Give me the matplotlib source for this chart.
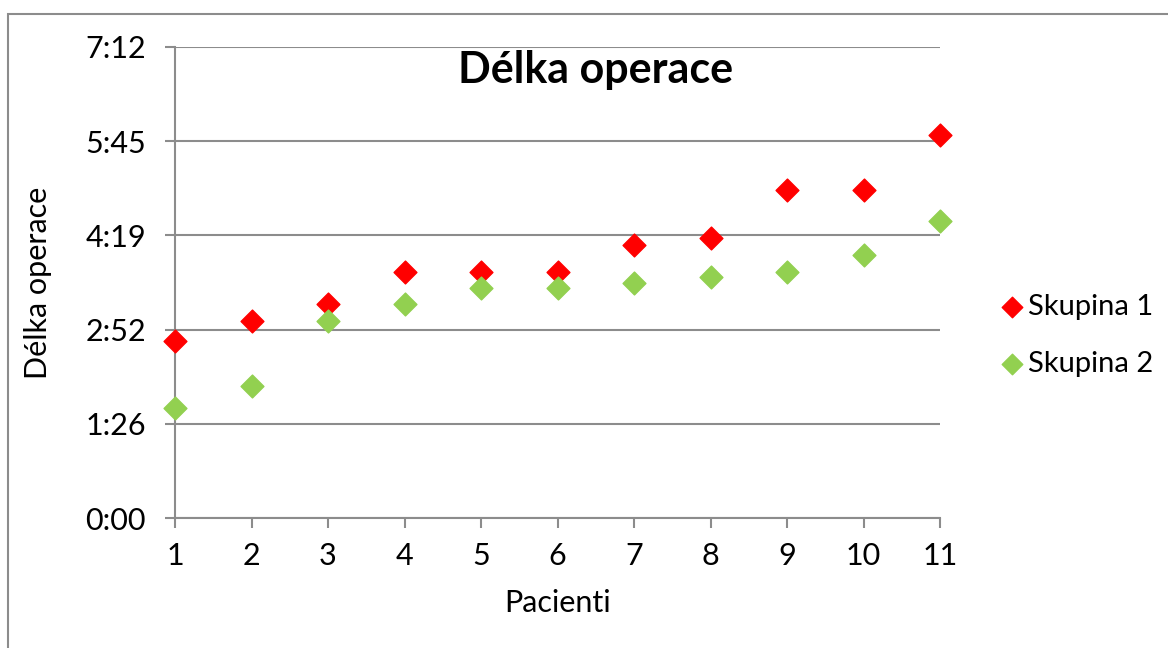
import matplotlib.pyplot as plt
from matplotlib.patches import Rectangle

plt.rcParams['font.family'] = ['Lato', 'DejaVu Sans']

# patients and operation length in minutes
pacienti = [1, 2, 3, 4, 5, 6, 7, 8, 9, 10, 11]
skupina1 = [162, 181, 196, 226, 226, 226, 250, 257, 301, 301, 351]
skupina2 = [101, 121, 181, 196, 211, 211, 216, 221, 226, 241, 272]
yticks = [0, 86.4, 172.8, 259.2, 345.6, 432]
ylabels = ['0:00', '1:26', '2:52', '4:19', '5:45', '7:12']

fig = plt.figure(figsize=(11.68, 6.48), dpi=100)
ax = fig.add_axes([175 / 1168, 1 - 518 / 648, (940 - 175) / 1168, (518 - 47) / 648])

# outer chart border
fig.patches.append(Rectangle((8 / 1168, -0.1), 1.2, 1 - 14 / 648 + 0.1,
                             transform=fig.transFigure, fill=False,
                             edgecolor='#8c8c8c', linewidth=1.5))

ax.scatter(pacienti, skupina1, marker='D', s=135, color='#ff0000', label='Skupina 1', zorder=3, clip_on=False)
ax.scatter(pacienti, skupina2, marker='D', s=135, color='#92d050', label='Skupina 2', zorder=3, clip_on=False)

ax.set_xlim(1, 11)
ax.set_ylim(0, 432)
ax.set_xticks(pacienti)
ax.set_yticks(yticks)
ax.set_yticklabels(ylabels)
ax.grid(axis='y', color='#8c8c8c', linewidth=1.5)
ax.set_axisbelow(True)
for s in ['top', 'right']:
    ax.spines[s].set_visible(False)
for s in ['left', 'bottom']:
    ax.spines[s].set_color('#8c8c8c')
    ax.spines[s].set_linewidth(1.5)
ax.tick_params(length=7, width=1.5, color='#8c8c8c', labelsize=22)
ax.tick_params(axis='y', pad=14)
ax.tick_params(axis='x', pad=10)

ax.set_xlabel('Pacienti', fontsize=22, labelpad=14)
ax.set_ylabel('Délka operace', fontsize=22, labelpad=24)
ax.set_title('Délka operace', fontsize=31, fontweight='bold', x=0.55, y=0.905)

ax.legend(loc='center left', bbox_to_anchor=(1.06, 0.388), frameon=False,
          fontsize=21, handlelength=0.8, handletextpad=0.15,
          labelspacing=1.05, markerscale=0.9, borderpad=0)

fig.savefig('out.png', dpi=100)
